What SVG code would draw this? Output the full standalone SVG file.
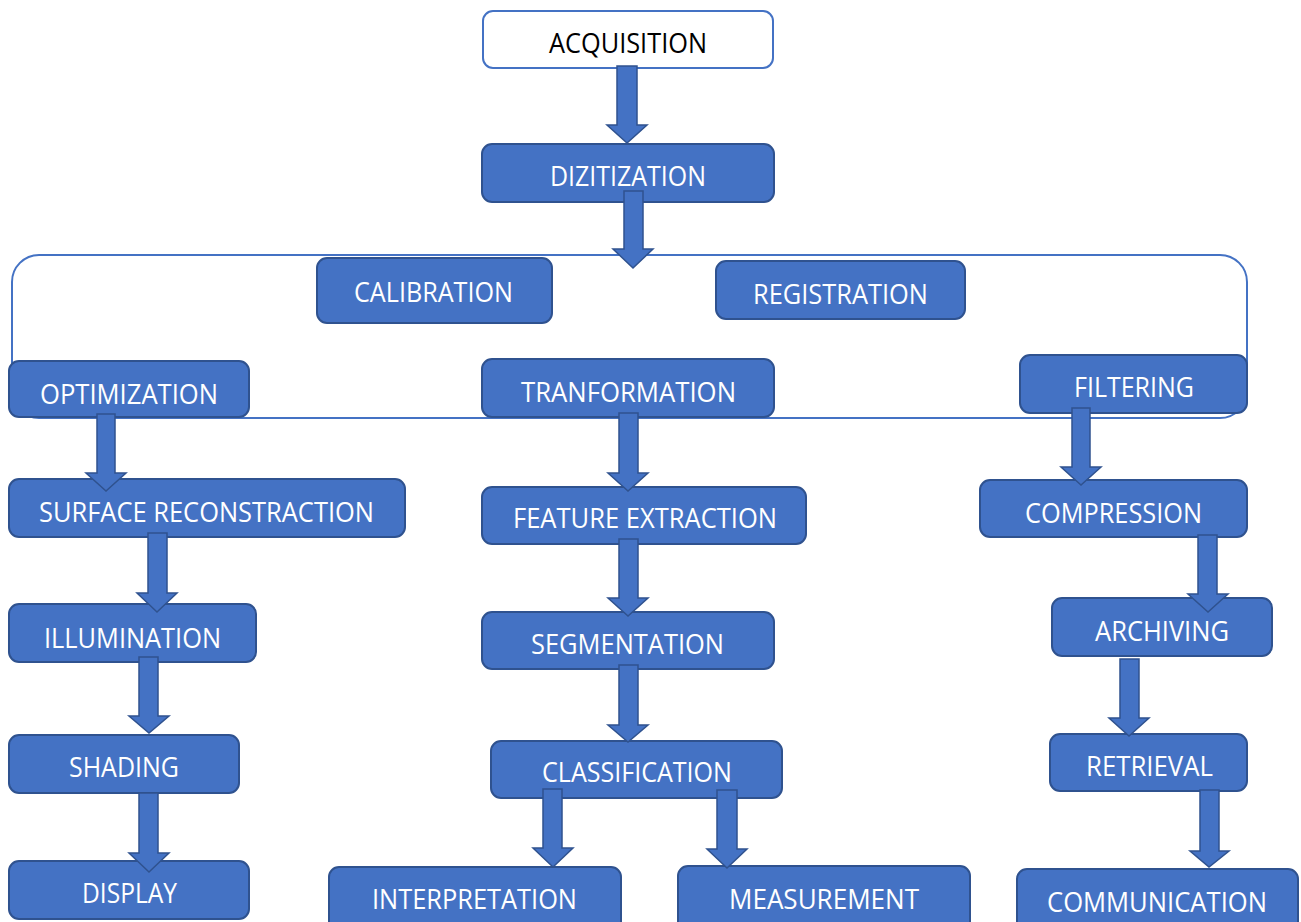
<svg xmlns="http://www.w3.org/2000/svg" width="1301" height="922" viewBox="0 0 1301 922">
<style>
.n{fill:#4472C4;stroke:#2F528F;stroke-width:2}
.w{fill:#ffffff;stroke:#4472C4;stroke-width:2}
.c{fill:none;stroke:#4472C4;stroke-width:2}
.a{fill:#4472C4;stroke:#2F528F;stroke-width:1.5;stroke-linejoin:miter}
text{font-family:"Open Sans","Noto Sans","Liberation Sans",sans-serif;font-size:27px;fill:#ffffff}
.k{fill:#000000}
</style>
<rect width="1301" height="922" fill="#ffffff"/>
<g id="container"><rect class="c" x="12" y="255" width="1235" height="163" rx="27"/></g>
<g id="acquisition"><rect class="w" x="483" y="11" width="290" height="57" rx="10"/><text class="k" x="549" y="53" textLength="158" lengthAdjust="spacingAndGlyphs">ACQUISITION</text></g>
<g id="dizitization"><rect class="n" x="482" y="144" width="292" height="58" rx="10"/><text x="550" y="186" textLength="156" lengthAdjust="spacingAndGlyphs">DIZITIZATION</text></g>
<g id="calibration"><rect class="n" x="317" y="258" width="235" height="65" rx="10"/><text x="354" y="302" textLength="159" lengthAdjust="spacingAndGlyphs">CALIBRATION</text></g>
<g id="registration"><rect class="n" x="716" y="261" width="249" height="58" rx="10"/><text x="753" y="304" textLength="175" lengthAdjust="spacingAndGlyphs">REGISTRATION</text></g>
<g id="optimization"><rect class="n" x="9" y="361" width="240" height="56" rx="10"/><text x="40" y="404" textLength="178" lengthAdjust="spacingAndGlyphs">OPTIMIZATION</text></g>
<g id="tranformation"><rect class="n" x="482" y="359" width="292" height="58" rx="10"/><text x="521" y="402" textLength="215" lengthAdjust="spacingAndGlyphs">TRANFORMATION</text></g>
<g id="filtering"><rect class="n" x="1020" y="355" width="227" height="58" rx="10"/><text x="1074" y="397" textLength="120" lengthAdjust="spacingAndGlyphs">FILTERING</text></g>
<g id="surface"><rect class="n" x="9" y="479" width="396" height="58" rx="10"/><text x="39" y="522" textLength="335" lengthAdjust="spacingAndGlyphs">SURFACE RECONSTRACTION</text></g>
<g id="feature"><rect class="n" x="482" y="487" width="324" height="57" rx="10"/><text x="513" y="528" textLength="264" lengthAdjust="spacingAndGlyphs">FEATURE EXTRACTION</text></g>
<g id="compression"><rect class="n" x="980" y="480" width="267" height="57" rx="10"/><text x="1025" y="523" textLength="177" lengthAdjust="spacingAndGlyphs">COMPRESSION</text></g>
<g id="illumination"><rect class="n" x="9" y="604" width="247" height="58" rx="10"/><text x="44" y="648" textLength="177" lengthAdjust="spacingAndGlyphs">ILLUMINATION</text></g>
<g id="segmentation"><rect class="n" x="482" y="612" width="292" height="57" rx="10"/><text x="531" y="654" textLength="193" lengthAdjust="spacingAndGlyphs">SEGMENTATION</text></g>
<g id="archiving"><rect class="n" x="1052" y="598" width="220" height="58" rx="10"/><text x="1095" y="641" textLength="134" lengthAdjust="spacingAndGlyphs">ARCHIVING</text></g>
<g id="shading"><rect class="n" x="9" y="735" width="230" height="58" rx="10"/><text x="69" y="777" textLength="110" lengthAdjust="spacingAndGlyphs">SHADING</text></g>
<g id="classification"><rect class="n" x="491" y="741" width="291" height="57" rx="10"/><text x="542" y="782" textLength="190" lengthAdjust="spacingAndGlyphs">CLASSIFICATION</text></g>
<g id="retrieval"><rect class="n" x="1050" y="734" width="197" height="57" rx="10"/><text x="1086" y="776" textLength="127" lengthAdjust="spacingAndGlyphs">RETRIEVAL</text></g>
<g id="display"><rect class="n" x="9" y="861" width="240" height="58" rx="10"/><text x="82" y="903" textLength="95" lengthAdjust="spacingAndGlyphs">DISPLAY</text></g>
<g id="interpretation"><rect class="n" x="329" y="867" width="292" height="70" rx="10"/><text x="372" y="909" textLength="205" lengthAdjust="spacingAndGlyphs">INTERPRETATION</text></g>
<g id="measurement"><rect class="n" x="678" y="866" width="292" height="70" rx="10"/><text x="729" y="909" textLength="190" lengthAdjust="spacingAndGlyphs">MEASUREMENT</text></g>
<g id="communication"><rect class="n" x="1017" y="869" width="281" height="70" rx="10"/><text x="1047" y="912" textLength="220" lengthAdjust="spacingAndGlyphs">COMMUNICATION</text></g>
<g id="connectors">
<polygon class="a" points="617,66 637,66 637,125 647,125 627,143 607,125 617,125"/>
<polygon class="a" points="624,191 643,191 643,249 653,249 633,268 613,249 624,249"/>
<polygon class="a" points="97,414 115,414 115,473 126,473 106,491 86,473 97,473"/>
<polygon class="a" points="148,533 167,533 167,593 177,593 157,612 137,593 148,593"/>
<polygon class="a" points="139,657 158,657 158,716 169,716 149,733 129,716 139,716"/>
<polygon class="a" points="139,793 158,793 158,853 169,853 149,872 129,853 139,853"/>
<polygon class="a" points="619,413 638,413 638,473 648,473 628,491 608,473 619,473"/>
<polygon class="a" points="619,539 638,539 638,598 648,598 628,616 608,598 619,598"/>
<polygon class="a" points="619,665 638,665 638,725 648,725 628,742 608,725 619,725"/>
<polygon class="a" points="543,789 562,789 562,848 573,848 553,867 533,848 543,848"/>
<polygon class="a" points="717,790 737,790 737,849 747,849 727,868 707,849 717,849"/>
<polygon class="a" points="1072,408 1090,408 1090,467 1101,467 1081,485 1061,467 1072,467"/>
<polygon class="a" points="1198,535 1217,535 1217,594 1228,594 1208,612 1188,594 1198,594"/>
<polygon class="a" points="1120,659 1139,659 1139,718 1149,718 1129,736 1109,718 1120,718"/>
<polygon class="a" points="1200,790 1219,790 1219,851 1229,851 1209,867 1190,851 1200,851"/>
</g>
</svg>
